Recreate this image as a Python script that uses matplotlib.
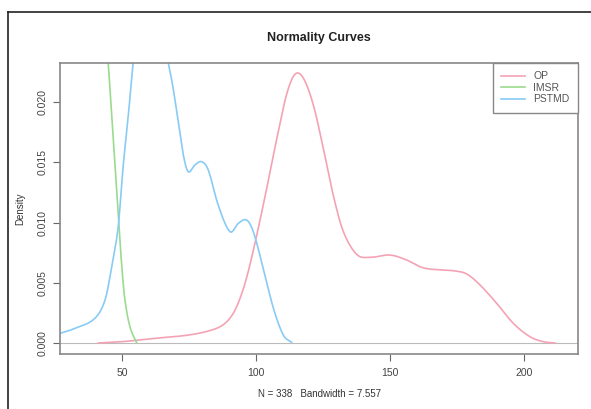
import matplotlib.pyplot as plt
import numpy as np
from matplotlib.lines import Line2D

plt.rcParams['font.family'] = ['Liberation Sans', 'DejaVu Sans']

# density estimates (x value, density)
op_x = [41.2, 49.9, 62.3, 74.7, 83.5, 88.4, 92.2, 95.9, 99.6, 104.0, 107.7, 111.5,
        114.6, 117.7, 121.4, 125.1, 128.8, 132.6, 137.6, 142.5, 150.0, 156.2, 161.2,
        164.9, 173.6, 178.6, 183.6, 189.8, 196.0, 202.2, 207.2, 211.6]
op_y = [0.0, 0.00011, 0.00039, 0.00066, 0.00108, 0.00163, 0.00274, 0.00495, 0.00827,
        0.01284, 0.01690, 0.02070, 0.02232, 0.02197, 0.01975, 0.01616, 0.01228, 0.00924,
        0.00735, 0.00711, 0.00730, 0.00689, 0.00633, 0.00614, 0.00600, 0.00573, 0.00481,
        0.00329, 0.00163, 0.00052, 0.00011, 0.0]

imsr_x = [42.5, 44.9, 46.8, 48.0, 48.6, 49.9, 51.1, 53.0, 55.5]
imsr_y = [0.0310, 0.02324, 0.0168, 0.0128, 0.0107, 0.0065, 0.0036, 0.00135, 0.00002]

pstmd_x = [24.0, 26.9, 32.5, 39.9, 43.7, 46.2, 48.6, 50.5, 52.4, 54.2, 57.0, 61.0, 65.0,
           67.3, 69.1, 71.0, 72.9, 74.7, 77.2, 79.7, 82.2, 85.9, 90.3, 93.4, 96.5, 99.0,
           102.7, 106.5, 110.2, 113.3]
pstmd_y = [0.0006, 0.0008, 0.00122, 0.00205, 0.00357, 0.00633, 0.00965, 0.01477, 0.01892,
           0.02324, 0.0265, 0.0275, 0.0255, 0.02324, 0.02114, 0.01837, 0.0156, 0.01422,
           0.01477, 0.01505, 0.01436, 0.01145, 0.00924, 0.00993, 0.01021, 0.00924,
           0.0062, 0.00288, 0.00066, 0.00006]

names = ["OP", "IMSR", "PSTMD"]
colors = ["#F4A3B4", "#9ADB8E", "#88CBF5"]
xticks = [50, 100, 150, 200]
yticks = [0.000, 0.005, 0.010, 0.015, 0.020]


def smooth(x, y):
    # cubic hermite through the read points
    x = np.asarray(x, float)
    y = np.asarray(y, float)
    xs, ys = [], []
    for i in range(len(x) - 1):
        x0, x1 = x[i], x[i + 1]
        y0, y1 = y[i], y[i + 1]
        m0 = (y[i + 1] - y[i - 1]) / (x[i + 1] - x[i - 1]) if i > 0 else (y1 - y0) / (x1 - x0)
        m1 = (y[i + 2] - y[i]) / (x[i + 2] - x[i]) if i < len(x) - 2 else (y1 - y0) / (x1 - x0)
        t = np.linspace(0, 1, 20, endpoint=False)
        h = x1 - x0
        h00 = 2 * t**3 - 3 * t**2 + 1
        h10 = t**3 - 2 * t**2 + t
        h01 = -2 * t**3 + 3 * t**2
        h11 = t**3 - t**2
        xs.extend(x0 + t * h)
        ys.extend(h00 * y0 + h10 * h * m0 + h01 * y1 + h11 * h * m1)
    xs.append(x[-1])
    ys.append(y[-1])
    return np.array(xs), np.array(ys)


fig = plt.figure(figsize=(5.91, 4.09), dpi=100)
ax = fig.add_axes([60 / 591, 1 - 354 / 409, 518 / 591, 291 / 409])

ax.axhline(0, color="#bbbbbb", lw=0.8, zorder=1)
for (xv, yv), name, c in zip([(op_x, op_y), (imsr_x, imsr_y), (pstmd_x, pstmd_y)], names, colors):
    sx, sy = smooth(xv, yv)
    ax.plot(sx, sy, color=c, lw=1.2, label=name, zorder=2)

ax.set_xlim(26.9, 220.1)
ax.set_ylim(-0.00091, 0.02324)
ax.set_xticks(xticks)
ax.set_xticklabels([str(v) for v in xticks])
ax.set_yticks(yticks)
ax.set_yticklabels(["%.3f" % v for v in yticks], rotation=90, va="center")
ax.tick_params(axis="both", colors="#666666", labelcolor="#444444", labelsize=7.5,
               length=5, width=0.8, direction="out")
ax.tick_params(axis="y", pad=4)
ax.tick_params(axis="x", pad=5)
for s in ax.spines.values():
    s.set_color("#888888")
    s.set_linewidth(1.2)

ax.set_title("Normality Curves", fontsize=9, fontweight="bold", color="#222222", pad=16)
ax.set_xlabel("N = 338   Bandwidth = 7.557", fontsize=7, color="#333333", labelpad=8)
ax.set_ylabel("Density", fontsize=7, color="#333333", labelpad=9)

leg = ax.legend(loc="upper right", borderaxespad=0, fancybox=False, fontsize=7.5,
                handlelength=2.3, handletextpad=0.8, labelspacing=0.15, borderpad=0.8,
                framealpha=1)
leg.get_frame().set_edgecolor("#888888")
leg.get_frame().set_linewidth(1.0)
for t in leg.get_texts():
    t.set_color("#555555")

# outer page border (top and left only)
fig.add_artist(Line2D([8 / 591, 1], [1 - 12 / 409, 1 - 12 / 409], color="#222222", lw=1.2))
fig.add_artist(Line2D([8 / 591, 8 / 591], [0, 1 - 12 / 409], color="#222222", lw=1.2))

fig.savefig("out.png", dpi=100)
